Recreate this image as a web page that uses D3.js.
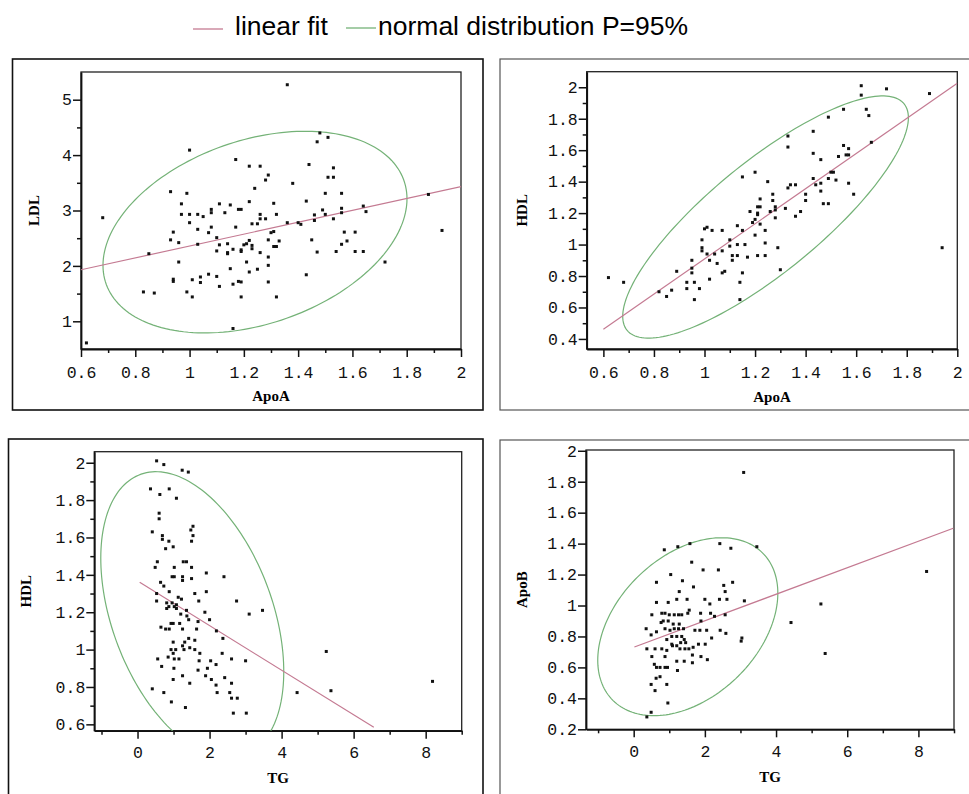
<!DOCTYPE html>
<html>
<head>
<meta charset="utf-8">
<script src="https://cdn.jsdelivr.net/npm/d3@7"></script>
<style>
  body { margin: 0; background: #fff; }
  svg { display: block; }
</style>
</head>
<body>
<svg width="969" height="794"></svg>
<script>
// ---- data ----
// panel 1: ApoA vs LDL
const p1ApoA = [0.62,0.68,0.85,0.83,0.87,0.93,0.93,0.94,0.94,0.94,0.96,0.96,0.97,0.97,0.99,0.99,1.0,1.0,1.0,1.01,1.01,1.03,1.03,1.03,1.04,1.04,1.05,1.07,1.07,1.08,1.08,1.08,1.10,1.10,1.10,1.11,1.11,1.11,1.13,1.14,1.14,1.14,1.15,1.15,1.16,1.16,1.16,1.17,1.17,1.18,1.19,1.18,1.19,1.19,1.19,1.19,1.20,1.21,1.21,1.22,1.22,1.23,1.22,1.22,1.23,1.23,1.24,1.25,1.25,1.26,1.26,1.26,1.26,1.28,1.28,1.29,1.29,1.29,1.29,1.29,1.30,1.31,1.31,1.31,1.32,1.32,1.32,1.33,1.36,1.36,1.38,1.40,1.41,1.43,1.43,1.44,1.45,1.46,1.46,1.47,1.47,1.48,1.49,1.50,1.50,1.51,1.51,1.53,1.53,1.53,1.54,1.56,1.56,1.56,1.56,1.57,1.58,1.61,1.61,1.64,1.64,1.65,1.72,1.88,1.93];
const p1LDL = [0.61,2.87,2.22,1.53,1.51,3.34,2.47,2.61,1.76,1.72,2.42,2.07,3.12,2.93,3.31,1.53,4.09,2.93,2.78,1.44,1.75,2.93,2.66,2.39,1.80,1.70,2.89,2.60,1.85,3.02,2.96,2.70,1.81,2.27,2.51,1.63,3.12,2.38,2.96,2.24,2.22,2.40,3.10,1.95,1.67,2.30,0.87,3.92,2.70,3.02,3.02,1.72,1.71,1.44,2.29,2.26,2.38,2.07,2.40,3.80,3.16,2.76,1.89,2.46,2.37,2.31,3.40,2.76,1.94,3.80,2.93,2.85,2.24,3.55,2.85,3.64,2.47,2.16,2.01,1.71,2.60,2.35,3.13,2.62,2.93,1.44,2.35,2.45,5.27,2.78,3.49,2.78,2.75,3.17,1.84,3.83,2.47,2.92,2.82,4.24,2.25,4.40,3.01,2.93,3.31,4.32,3.60,2.85,3.77,3.60,2.26,3.04,2.96,3.31,2.39,2.61,2.45,2.61,2.26,3.08,2.26,2.98,2.07,3.29,2.64];

// panel 2: ApoA vs HDL
const p2ApoA = [0.62,0.68,0.82,0.85,0.87,0.89,0.93,0.93,0.95,0.95,0.96,0.96,0.98,0.95,0.99,0.99,0.99,1.0,1.01,1.01,1.02,1.02,1.03,1.04,1.05,1.07,1.07,1.07,1.08,1.10,1.10,1.11,1.11,1.13,1.13,1.13,1.14,1.14,1.15,1.15,1.15,1.16,1.17,1.18,1.19,1.20,1.20,1.20,1.21,1.21,1.21,1.21,1.22,1.22,1.22,1.24,1.24,1.24,1.25,1.26,1.27,1.27,1.28,1.28,1.28,1.29,1.30,1.32,1.33,1.33,1.33,1.34,1.36,1.36,1.38,1.40,1.40,1.43,1.43,1.43,1.44,1.46,1.46,1.46,1.47,1.49,1.49,1.49,1.50,1.51,1.52,1.53,1.55,1.55,1.56,1.57,1.57,1.57,1.59,1.62,1.62,1.64,1.65,1.66,1.72,1.89,1.94];
const p2HDL = [0.79,0.76,0.70,0.67,0.71,0.83,0.76,0.72,0.85,0.90,0.76,0.65,0.72,0.82,1.03,0.98,0.96,1.10,1.11,0.94,0.90,0.78,1.09,0.94,0.88,1.09,0.96,0.82,0.83,1.03,0.99,0.93,0.90,1.12,0.93,1.0,0.65,0.76,1.43,1.09,0.82,1.0,0.92,1.21,1.14,1.46,1.06,1.16,1.24,1.20,1.19,0.93,1.29,1.24,1.13,1.01,1.09,0.93,1.40,1.21,1.28,1.32,1.24,1.17,1.22,0.98,0.84,1.23,1.69,1.62,1.36,1.38,1.18,1.38,1.21,1.32,1.28,1.72,1.42,1.58,1.38,1.54,1.39,1.34,1.26,1.26,1.81,1.42,1.46,1.46,1.41,1.56,1.63,1.86,1.57,1.61,1.57,1.39,1.32,2.01,1.95,1.86,1.82,1.65,1.99,1.96,0.98];

// panel 3: TG vs HDL
const p3TG = [0.53,0.73,1.24,1.41,0.36,0.88,0.62,1.08,0.60,0.60,0.41,0.69,0.69,0.87,0.78,0.99,1.54,1.48,1.54,1.50,0.55,0.49,1.02,1.27,1.36,1.50,0.96,1.02,1.25,1.25,1.50,1.91,2.40,0.64,0.73,0.53,0.88,1.13,1.22,1.59,1.91,1.70,2.75,0.53,0.81,0.87,0.81,0.96,1.02,1.08,1.08,1.20,1.36,1.37,1.87,2.0,3.10,3.47,0.65,0.78,0.88,0.93,0.99,1.17,1.25,1.42,1.64,1.68,2.19,2.37,0.99,1.31,1.42,1.59,1.25,1.29,0.93,1.06,1.45,1.59,1.73,0.99,2.35,0.56,0.85,1.02,1.15,1.01,0.67,1.71,2.03,2.18,2.61,3.00,1.94,1.68,0.99,1.25,1.89,2.05,2.18,2.42,2.61,1.45,0.41,0.73,2.21,2.56,4.43,2.61,2.77,0.94,1.33,2.66,3.02,5.24,5.37,8.19];
const p3HDL = [2.01,1.99,1.96,1.95,1.86,1.86,1.83,1.81,1.73,1.70,1.63,1.61,1.59,1.58,1.54,1.55,1.66,1.64,1.61,1.58,1.47,1.44,1.44,1.47,1.47,1.44,1.39,1.39,1.39,1.37,1.38,1.41,1.39,1.36,1.34,1.30,1.31,1.28,1.27,1.30,1.31,1.26,1.26,1.26,1.25,1.23,1.22,1.25,1.23,1.24,1.22,1.19,1.21,1.18,1.20,1.16,1.19,1.21,1.12,1.11,1.11,1.14,1.14,1.14,1.11,1.16,1.11,1.15,1.10,1.06,1.04,1.04,1.06,1.05,1.02,1.00,1.00,1.00,1.01,1.00,0.98,0.98,0.98,0.95,0.96,0.95,0.95,0.90,0.91,0.94,0.94,0.92,0.95,0.94,0.90,0.89,0.84,0.86,0.86,0.84,0.81,0.85,0.82,0.82,0.79,0.77,0.77,0.77,0.77,0.74,0.74,0.72,0.69,0.66,0.66,0.99,0.78,0.83];

// panel 4: TG vs ApoB
const p4TG = [0.37,0.49,0.96,0.60,0.49,0.93,0.63,0.74,0.64,0.74,0.88,0.95,0.58,1.23,1.21,1.42,1.65,0.51,0.88,1.65,1.89,2.07,0.37,0.60,0.79,0.93,1.09,1.30,1.44,1.55,1.67,1.07,1.21,1.32,1.46,1.82,2.01,3.02,3.04,0.49,0.93,1.07,1.21,1.35,1.42,1.72,1.86,2.05,2.19,2.43,2.59,0.35,0.64,0.88,1.02,1.14,1.26,1.40,0.77,0.83,0.97,1.11,1.28,1.89,0.79,0.88,1.00,1.14,1.26,1.35,1.52,1.56,1.88,2.16,2.27,2.57,0.51,0.64,0.97,1.21,1.50,2.00,2.14,2.41,2.62,3.11,1.28,2.57,1.68,0.64,1.37,2.53,2.78,1.04,1.95,2.38,1.63,0.86,1.24,1.58,2.42,2.73,3.46,3.09,4.42,5.26,5.38,8.23];
const p4ApoB = [0.28,0.31,0.37,0.45,0.49,0.49,0.53,0.54,0.60,0.60,0.60,0.60,0.62,0.58,0.64,0.64,0.63,0.67,0.67,0.68,0.67,0.65,0.72,0.72,0.72,0.71,0.74,0.72,0.72,0.72,0.73,0.75,0.74,0.76,0.76,0.75,0.75,0.77,0.79,0.81,0.78,0.80,0.80,0.80,0.78,0.84,0.84,0.84,0.79,0.84,0.82,0.85,0.83,0.85,0.84,0.85,0.85,0.85,0.89,0.90,0.90,0.88,0.88,0.90,0.95,0.95,0.94,0.94,0.94,0.94,0.95,0.97,0.95,0.95,0.93,0.94,0.94,1.02,1.02,1.04,1.04,1.04,1.01,1.04,1.04,1.03,1.09,1.09,1.12,1.15,1.16,1.13,1.15,1.20,1.23,1.23,1.28,1.36,1.38,1.40,1.40,1.37,1.38,1.86,0.89,1.01,0.69,1.22];

// linear fit end points [x0, y0, x1, y1]
const fitLDL = [0.6, 1.93, 2.0, 3.43];
const fitHDLApoA = [0.6, 0.462, 2.0, 2.025];
const fitHDLTG = [0.06, 1.36, 6.56, 0.584];
const fitApoB = [0.02, 0.732, 8.98, 1.499];

// 95% ellipse: [meanX, meanY, halfWidthX, halfWidthY, r]
const ellLDL = [1.241, 2.61, 0.56, 1.82, 0.33];
const ellHDLApoA = [1.2415, 1.175, 0.565, 0.77, 0.82];
const ellHDLTG = [1.52, 1.186, 2.54, 0.766, -0.396];
const ellApoB = [1.52, 0.863, 2.53, 0.575, 0.377];

const legendLabels = ["linear fit", "normal distribution P=95%"];

const fitColor = "#c47a92";
const ellColor = "#74b277";

const svg = d3.select("svg");

// legend
svg.append("line").attr("x1", 193).attr("x2", 223).attr("y1", 29).attr("y2", 29)
  .attr("stroke", fitColor).attr("stroke-width", 1.3);
svg.append("text").attr("x", 235).attr("y", 35).text(legendLabels[0])
  .attr("font-family", "Liberation Sans, Arial, sans-serif").attr("font-size", 26.5);
svg.append("line").attr("x1", 346).attr("x2", 376).attr("y1", 28).attr("y2", 28)
  .attr("stroke", ellColor).attr("stroke-width", 1.3);
svg.append("text").attr("x", 378).attr("y", 35).text(legendLabels[1])
  .attr("font-family", "Liberation Sans, Arial, sans-serif").attr("font-size", 26.5);

const panels = [
  { box: [12.5, 59, 483, 410], px: [81, 461], py: [349, 72], xd: [0.6, 2], yd: [0.5, 5.5],
    xMajor: d3.range(0.6, 2.01, 0.2), xMinor: d3.range(0.7, 2.0, 0.2),
    yMajor: [1, 2, 3, 4, 5], yMinor: [1.5, 2.5, 3.5, 4.5],
    xs: p1ApoA, ys: p1LDL, fit: fitLDL, ell: ellLDL, xt: "ApoA", yt: "LDL", xLab: 378, xTit: 401, yTitX: 34 },
  { box: [500, 59, 975, 410], px: [586.7, 957.3], py: [349, 71.7], xd: [0.534, 2], yd: [0.336, 2.099],
    xMajor: d3.range(0.6, 2.01, 0.2), xMinor: d3.range(0.7, 2.0, 0.2),
    yMajor: d3.range(0.4, 2.01, 0.2), yMinor: d3.range(0.5, 2.0, 0.2),
    xs: p2ApoA, ys: p2HDL, fit: fitHDLApoA, ell: ellHDLApoA, xt: "ApoA", yt: "HDL", xLab: 378, xTit: 402, yTitX: 522 },
  { box: [8.5, 439, 483, 800], px: [94.3, 461.7], py: [730.7, 451.7], xd: [-1.2, 9.0], yd: [0.566, 2.059],
    xMajor: [0, 2, 4, 6, 8], xMinor: [-1, 1, 3, 5, 7, 9],
    yMajor: d3.range(0.6, 2.01, 0.2), yMinor: d3.range(0.7, 2.0, 0.2),
    xs: p3TG, ys: p3HDL, fit: fitHDLTG, ell: ellHDLTG, xt: "TG", yt: "HDL", xLab: 758, xTit: 783, yTitX: 26 },
  { box: [500, 440, 975, 800], px: [586, 954], py: [729.3, 450], xd: [-1.34, 9.0], yd: [0.2, 2.005],
    xMajor: [0, 2, 4, 6, 8], xMinor: [-1, 1, 3, 5, 7, 9],
    yMajor: d3.range(0.2, 2.01, 0.2), yMinor: [],
    xs: p4TG, ys: p4ApoB, fit: fitApoB, ell: ellApoB, xt: "TG", yt: "ApoB", xLab: 757, xTit: 782, yTitX: 522 }
];

const fmt = v => d3.format("~g")(+v.toFixed(2));

panels.forEach((p, i) => {
  const g = svg.append("g");
  // outer box
  g.append("rect").attr("x", p.box[0]).attr("y", p.box[1])
    .attr("width", p.box[2] - p.box[0]).attr("height", p.box[3] - p.box[1])
    .attr("fill", "none").attr("stroke", i % 2 ? "#555" : "#111").attr("stroke-width", i % 2 ? 1.2 : 1.6);

  const x = d3.scaleLinear().domain(p.xd).range(p.px);
  const y = d3.scaleLinear().domain(p.yd).range(p.py);

  // clip
  g.append("clipPath").attr("id", "clip" + i).append("rect")
    .attr("x", p.px[0]).attr("y", p.py[1]).attr("width", p.px[1] - p.px[0]).attr("height", p.py[0] - p.py[1]);

  // frame top/right
  g.append("rect").attr("x", p.px[0]).attr("y", p.py[1])
    .attr("width", p.px[1] - p.px[0]).attr("height", p.py[0] - p.py[1])
    .attr("fill", "none").attr("stroke", "#222").attr("stroke-width", 1.3);

  // axes
  const fontTick = "Liberation Mono, DejaVu Sans Mono, monospace";
  const ax = g.append("g").attr("transform", `translate(0,${p.py[0]})`)
    .call(d3.axisBottom(x).tickValues(p.xMajor).tickSize(8).tickSizeOuter(0).tickPadding(6).tickFormat(fmt));
  ax.selectAll("text").attr("font-family", fontTick).attr("font-size", 16.5).attr("fill", "#111")
    .attr("dy", null).attr("y", p.xLab - p.py[0]);
  g.append("g").attr("transform", `translate(0,${p.py[0]})`)
    .call(d3.axisBottom(x).tickValues(p.xMinor).tickSize(4).tickSizeOuter(0).tickFormat(""))
    .select(".domain").remove();

  const ay = g.append("g").attr("transform", `translate(${p.px[0]},0)`)
    .call(d3.axisLeft(y).tickValues(p.yMajor).tickSize(8).tickSizeOuter(0).tickPadding(1).tickFormat(fmt));
  ay.selectAll("text").attr("font-family", fontTick).attr("font-size", 16.5).attr("fill", "#111");
  if (p.yMinor.length) {
    g.append("g").attr("transform", `translate(${p.px[0]},0)`)
      .call(d3.axisLeft(y).tickValues(p.yMinor).tickSize(4).tickSizeOuter(0).tickFormat(""))
      .select(".domain").remove();
  }
  g.selectAll(".domain").attr("stroke-width", 1.8).attr("stroke", "#111");
  g.selectAll(".tick line").attr("stroke-width", 1.5).attr("stroke", "#111");

  // axis titles
  g.append("text").attr("x", (p.px[0] + p.px[1]) / 2).attr("y", p.xTit)
    .attr("text-anchor", "middle").attr("font-family", "Liberation Serif, serif")
    .attr("font-weight", "bold").attr("font-size", 15).text(p.xt);
  g.append("text").attr("transform", `translate(${p.yTitX},${(p.py[0] + p.py[1]) / 2}) rotate(-90)`)
    .attr("text-anchor", "middle").attr("dy", "0.35em").attr("font-family", "Liberation Serif, serif")
    .attr("font-weight", "bold").attr("font-size", 15).text(p.yt);

  const inner = g.append("g").attr("clip-path", `url(#clip${i})`);

  // ellipse
  const [mx, my, ex, ey, r] = p.ell;
  const ts = d3.range(0, 2 * Math.PI + 0.01, Math.PI / 90);
  inner.append("path")
    .attr("d", d3.line()(ts.map(t => [
      x(mx + ex * Math.cos(t)),
      y(my + ey * (r * Math.cos(t) + Math.sqrt(1 - r * r) * Math.sin(t)))
    ])))
    .attr("fill", "none").attr("stroke", ellColor).attr("stroke-width", 1.2);

  // fit line
  inner.append("line")
    .attr("x1", x(p.fit[0])).attr("y1", y(p.fit[1]))
    .attr("x2", x(p.fit[2])).attr("y2", y(p.fit[3]))
    .attr("stroke", fitColor).attr("stroke-width", 1.2);

  // points
  inner.selectAll("rect.pt").data(p.xs).enter().append("rect").attr("class", "pt")
    .attr("x", d => x(d) - 1.5).attr("y", (d, j) => y(p.ys[j]) - 1.5)
    .attr("width", 3).attr("height", 3).attr("fill", "#111");
});
</script>
</body>
</html>
